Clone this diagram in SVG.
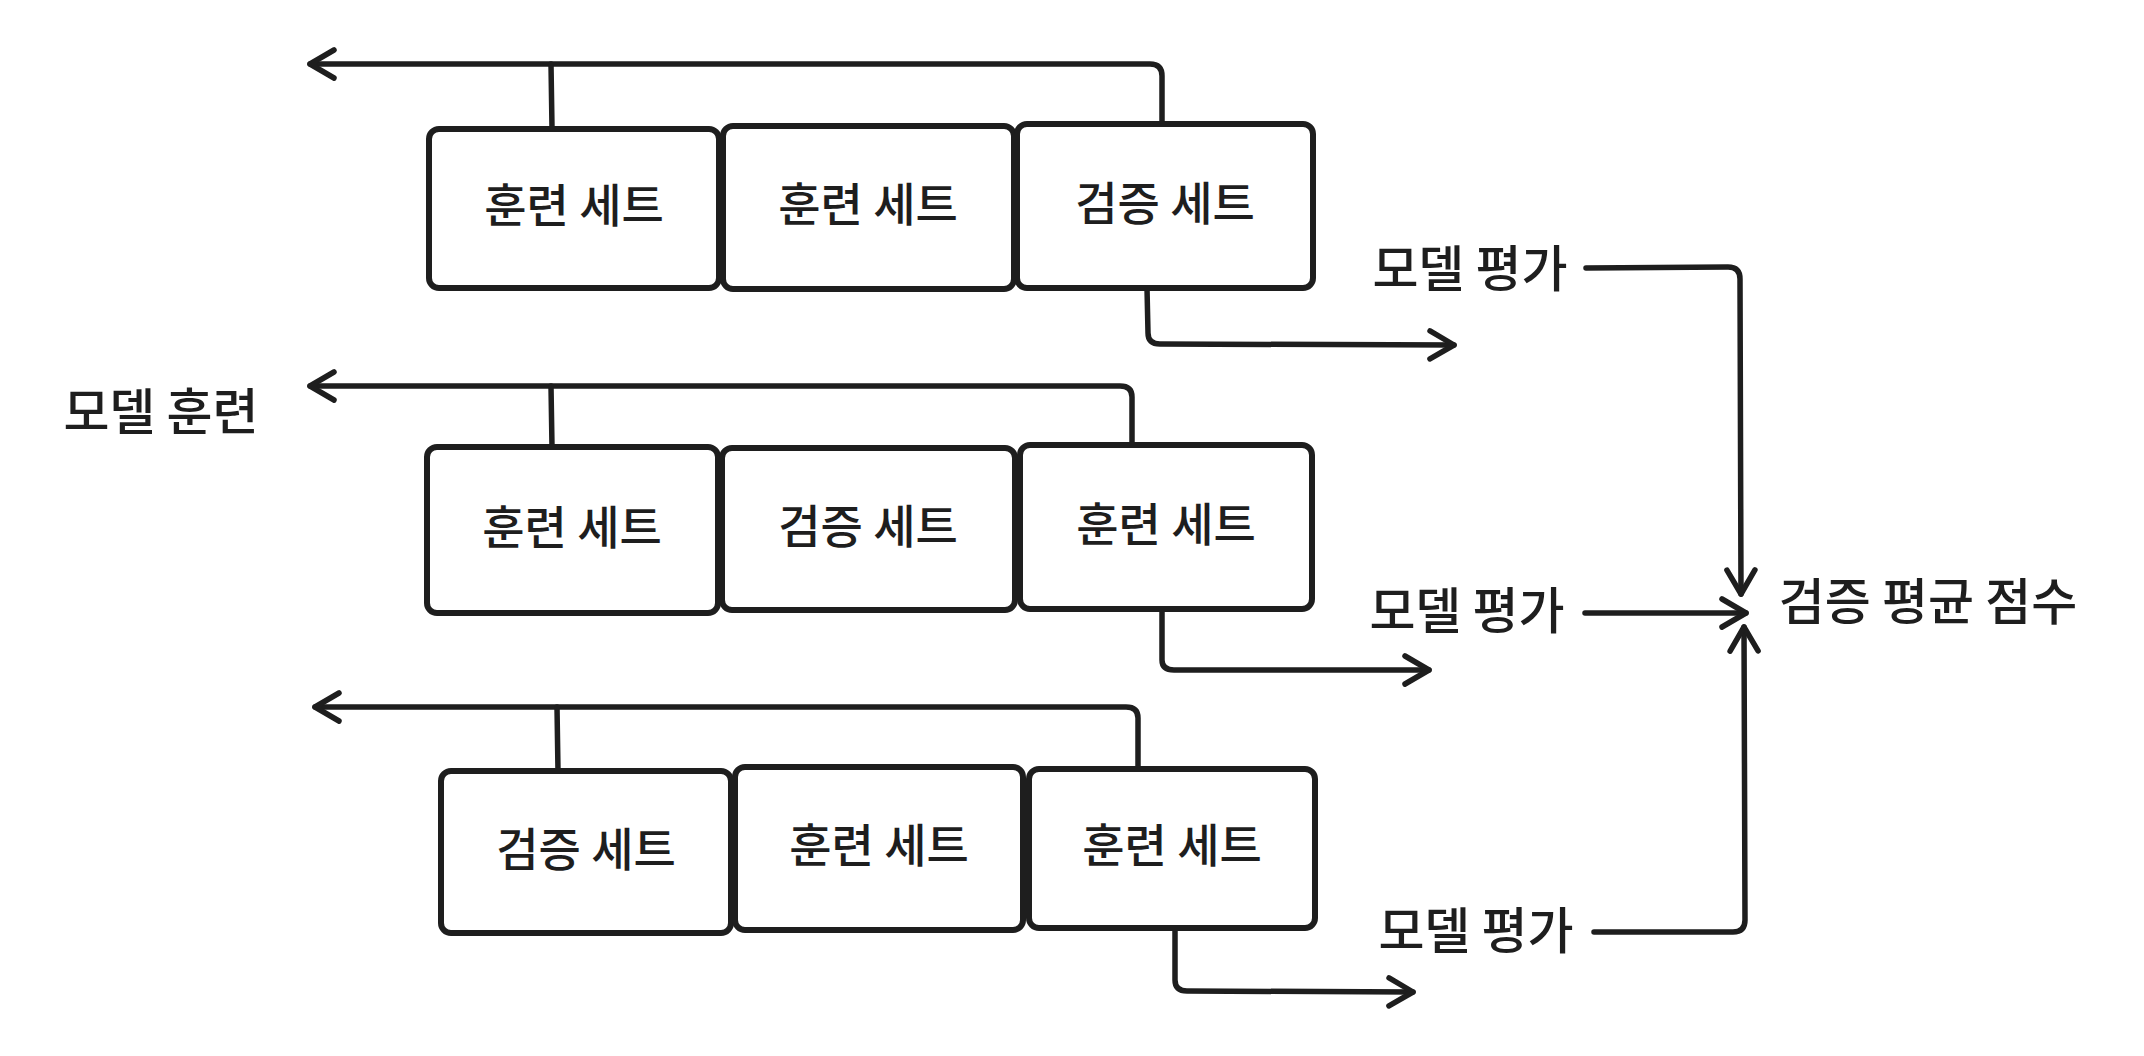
<svg xmlns="http://www.w3.org/2000/svg" width="2144" height="1056" viewBox="0 0 2144 1056">
<style>
.box{fill:#ffffff;stroke:#1e1e1e;stroke-width:6;}
.t{font-family:"Noto Sans CJK KR","Noto Sans",sans-serif;font-size:46px;font-weight:500;fill:#1e1e1e;text-anchor:middle;dominant-baseline:central;}
.l{font-family:"Noto Sans CJK KR","Noto Sans",sans-serif;font-size:50px;font-weight:500;fill:#1e1e1e;text-anchor:middle;dominant-baseline:central;}
.c{fill:none;stroke:#1e1e1e;stroke-width:5.5;stroke-linecap:round;stroke-linejoin:round;}
</style>
<defs>
<marker id="ah" markerUnits="userSpaceOnUse" markerWidth="40" markerHeight="40" refX="30" refY="20" orient="auto">
<path d="M6 6 L30 20 L6 34" fill="none" stroke="#1e1e1e" stroke-width="5.5" stroke-linecap="round" stroke-linejoin="round"/>
</marker>
</defs>
<rect width="2144" height="1056" fill="#ffffff"/>
<g id="connectors">
<path class="c" d="M1162 124 L1162 76 Q1162 64 1150 64 L310 64" marker-end="url(#ah)"/>
<path class="c" d="M551 64 L552 128"/>
<path class="c" d="M1147 288 L1148 333 Q1148 344 1160 344 L1454 345" marker-end="url(#ah)"/>
<path class="c" d="M1132 445 L1132 397 Q1132 386 1120 386 L310 386" marker-end="url(#ah)"/>
<path class="c" d="M551 386 L552 447"/>
<path class="c" d="M1162 609 L1162 660 Q1162 670 1174 670 L1429 670" marker-end="url(#ah)"/>
<path class="c" d="M1138 768 L1138 718 Q1138 707 1126 707 L315 707" marker-end="url(#ah)"/>
<path class="c" d="M557 707 L558 771"/>
<path class="c" d="M1175 928 L1175 980 Q1175 991 1187 991 L1413 992" marker-end="url(#ah)"/>
<path class="c" d="M1586 268 L1728 267 Q1740 267 1740 279 L1741 594" marker-end="url(#ah)"/>
<path class="c" d="M1585 613 L1746 613" marker-end="url(#ah)"/>
<path class="c" d="M1594 932 L1733 932 Q1745 932 1745 920 L1744 627" marker-end="url(#ah)"/>
</g>
<g id="r1b1"><rect class="box" x="429" y="129" width="290" height="159" rx="10"/><text class="t" x="574" y="202">훈련 세트</text></g>
<g id="r1b2"><rect class="box" x="723" y="126" width="291" height="163" rx="10"/><text class="t" x="868" y="201">훈련 세트</text></g>
<g id="r1b3"><rect class="box" x="1017" y="124" width="296" height="164" rx="10"/><text class="t" x="1165" y="200">검증 세트</text></g>
<g id="r2b1"><rect class="box" x="427" y="447" width="291" height="166" rx="10"/><text class="t" x="572" y="524">훈련 세트</text></g>
<g id="r2b2"><rect class="box" x="722" y="448" width="293" height="162" rx="10"/><text class="t" x="868" y="523">검증 세트</text></g>
<g id="r2b3"><rect class="box" x="1020" y="445" width="292" height="164" rx="10"/><text class="t" x="1166" y="521">훈련 세트</text></g>
<g id="r3b1"><rect class="box" x="441" y="771" width="290" height="162" rx="10"/><text class="t" x="586" y="846">검증 세트</text></g>
<g id="r3b2"><rect class="box" x="735" y="767" width="288" height="163" rx="10"/><text class="t" x="879" y="842">훈련 세트</text></g>
<g id="r3b3"><rect class="box" x="1029" y="769" width="286" height="159" rx="10"/><text class="t" x="1172" y="842">훈련 세트</text></g>
<g id="train-label"><text class="l" x="161" y="408">모델 훈련</text></g>
<g id="eval1"><text class="l" x="1470" y="265">모델 평가</text></g>
<g id="eval2"><text class="l" x="1467" y="607">모델 평가</text></g>
<g id="eval3"><text class="l" x="1476" y="927">모델 평가</text></g>
<g id="score"><text class="l" x="1928" y="598">검증 평균 점수</text></g>
</svg>
